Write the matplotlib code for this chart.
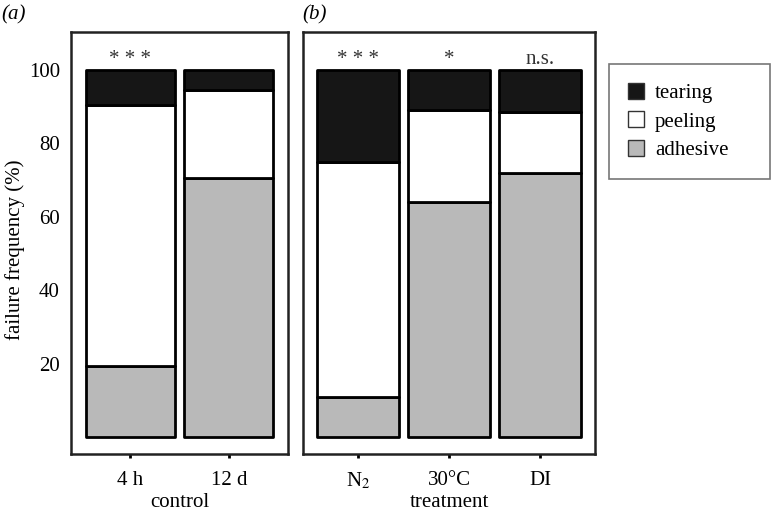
import matplotlib.pyplot as plt
import matplotlib.transforms as mtransforms
from matplotlib.patches import Patch

plt.rcParams['font.family'] = ['Liberation Serif', 'DejaVu Serif']
plt.rcParams['mathtext.fontset'] = 'stix'

# data (percent)
ctrl_labels = ["4 h", "12 d"]
ctrl_adhesive = [19.5, 70.5]
ctrl_peeling = [71.0, 24.0]
ctrl_tearing = [9.5, 5.5]
ctrl_sig = ["* * *", ""]

trt_labels = ["N$_2$", "30°C", "DI"]
trt_adhesive = [11.0, 64.0, 72.0]
trt_peeling = [64.0, 25.0, 16.5]
trt_tearing = [25.0, 11.0, 11.5]
trt_sig = ["* * *", "*", "n.s."]

colors = {"tearing": "#161616", "peeling": "white", "adhesive": "#b9b9b9"}
yticks = [20, 40, 60, 80, 100]
fs = 15

fig = plt.figure(figsize=(7.74, 5.14), dpi=100)
axa = fig.add_axes([0.0917, 0.1167, 0.2804, 0.821])
axb = fig.add_axes([0.3915, 0.1167, 0.3773, 0.821])


def panel(ax, labels, adh, peel, tear, sig, xlabel):
    x = list(range(len(labels)))
    kw = dict(width=0.9, edgecolor="black", linewidth=2, joinstyle="round")
    ax.bar(x, adh, color=colors["adhesive"], **kw)
    ax.bar(x, peel, bottom=adh, color=colors["peeling"], **kw)
    bot = [a + p for a, p in zip(adh, peel)]
    ax.bar(x, tear, bottom=bot, color=colors["tearing"], **kw)
    for xi, s in zip(x, sig):
        if s:
            ax.text(xi, 101.5, s, ha="center", va="baseline", fontsize=fs, color="#333333")
    ax.set_xlim(-0.6, len(labels) - 0.4)
    ax.set_ylim(-4.5, 110.3)
    ax.set_xticks(x)
    ax.set_xticklabels(labels, fontsize=fs)
    ax.tick_params(axis="x", length=3, width=2, pad=9)
    for sp in ax.spines.values():
        sp.set_linewidth(1.8)
        sp.set_color("#222222")
    # axis title at a fixed height so the N2 subscript doesn't push it down
    trans = mtransforms.blended_transform_factory(ax.transAxes, fig.transFigure)
    ax.text(0.5, 0.023, xlabel, fontsize=fs, ha="center", va="center", transform=trans)


panel(axa, ctrl_labels, ctrl_adhesive, ctrl_peeling, ctrl_tearing, ctrl_sig, "control")
panel(axb, trt_labels, trt_adhesive, trt_peeling, trt_tearing, trt_sig, "treatment")

axa.set_yticks(yticks)
axa.set_yticklabels([str(v) for v in yticks], fontsize=fs)
axa.tick_params(axis="y", length=0, pad=8)
axb.set_yticks([])
fig.text(0.019, 0.514, "failure frequency (%)", fontsize=fs, rotation=90,
         ha="center", va="center")

fig.text(0.002, 0.972, "(a)", fontsize=fs, style="italic", va="center")
fig.text(0.390, 0.972, "(b)", fontsize=fs, style="italic", va="center")

handles = [Patch(facecolor=colors[k], edgecolor="#333333", label=k)
           for k in ["tearing", "peeling", "adhesive"]]
leg = fig.legend(handles=handles, loc="upper left",
                 bbox_to_anchor=(609 / 774, (514 - 177) / 514, 161 / 774, 113 / 514),
                 mode="expand", fontsize=fs, frameon=True, fancybox=False,
                 edgecolor="#555555", handlelength=0.8, handleheight=0.8,
                 borderpad=0.9, labelspacing=0.4, handletextpad=0.5, borderaxespad=0)
leg.get_frame().set_linewidth(1.2)

fig.savefig("out.png", dpi=100)
